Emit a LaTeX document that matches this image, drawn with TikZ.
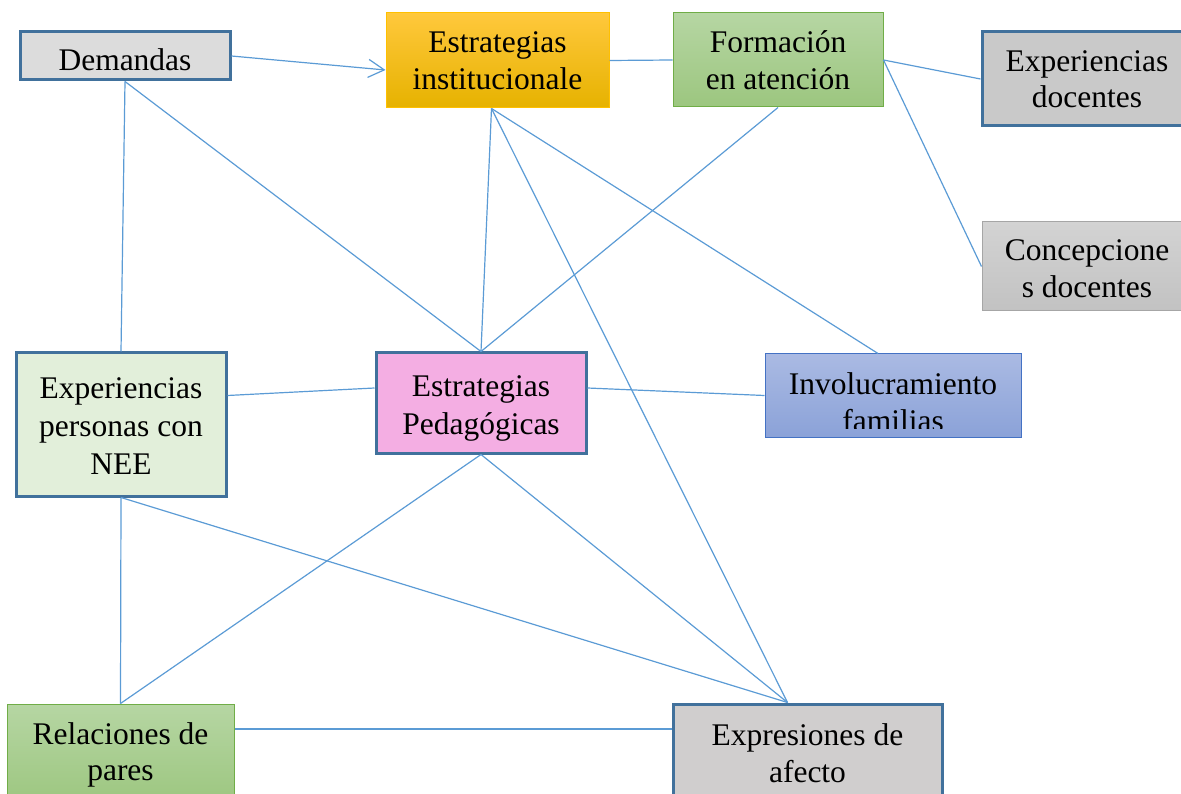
\documentclass[tikz,border=0pt]{standalone}
\usepackage{fontspec}
\setmainfont{Liberation Serif}
\usetikzlibrary{arrows.meta}
\definecolor{edge}{HTML}{5B9BD5}
\definecolor{dkblue}{HTML}{41719C}
\definecolor{gold}{HTML}{FFC000}
\definecolor{goldtop}{HTML}{FFC83C}
\definecolor{goldbot}{HTML}{E6B200}
\definecolor{grntop}{HTML}{B6D6A3}
\definecolor{grnbot}{HTML}{9CC67F}
\definecolor{grnline}{HTML}{70AD47}
\definecolor{bluetop}{HTML}{AABAE3}
\definecolor{bluebot}{HTML}{8BA2D8}
\definecolor{blueline}{HTML}{4472C4}
\definecolor{greytop}{HTML}{D3D3D3}
\definecolor{greybot}{HTML}{C2C2C2}
\definecolor{greyline}{HTML}{A6A6A6}
\definecolor{lightgrey}{HTML}{DCDCDC}
\definecolor{midgrey}{HTML}{C9C9C9}
\definecolor{paleg}{HTML}{E2EFDA}
\definecolor{pink}{HTML}{F4AEE3}
\definecolor{rosegrey}{HTML}{D0CECE}
\begin{document}
\begin{tikzpicture}[x=1pt,y=-1pt,
  box/.style={rectangle, inner sep=0pt, align=center,
    font=\fontsize{31.5}{36.5}\selectfont, text=black},
  boxtext/.style={inner sep=0pt, align=center, text=black,
    font=\fontsize{31.5}{38}\selectfont},
  heavy/.style={draw=dkblue, line width=3pt},
  goldbox/.style={top color=goldtop, bottom color=goldbot, draw=gold, line width=1pt},
  greenbox/.style={top color=grntop, bottom color=grnbot, draw=grnline, line width=1pt},
  bluebox/.style={top color=bluetop, bottom color=bluebot, draw=blueline, line width=1pt},
  greybox/.style={top color=greytop, bottom color=greybot, draw=greyline, line width=1pt},
  link/.style={draw=edge, line width=1.2pt}]
\useasboundingbox (0,0) rectangle (1181,794);

\node[box, heavy, fill=lightgrey, minimum width=210pt, minimum height=48pt,
  label={[boxtext, yshift=-4pt]center:Demandas}] (dem) at (125,56) {};
\node[box, goldbox, minimum width=223pt, minimum height=95pt] (einst) at (497.5,60.5) {Estrategias\\institucionale};
\node[box, greenbox, minimum width=210pt, minimum height=94pt] (form) at (778,60) {Formación\\en atención};
\node[box, heavy, fill=midgrey, minimum width=210pt, minimum height=94pt] (expdoc) at (1087,79) {Experiencias\\docentes};
\node[box, greybox, minimum width=210pt, minimum height=89pt,
  label={[box, yshift=-2pt]center:{Concepcione\\s docentes}}] (conc) at (1087,266.5) {};
\node[box, heavy, fill=paleg, minimum width=210pt, minimum height=143pt,
  label={[boxtext, yshift=-2pt]center:{Experiencias\\personas con\\NEE}}] (expp) at (121,424.5) {};
\node[box, heavy, fill=pink, minimum width=210pt, minimum height=100pt,
  label={[boxtext, yshift=-5pt]center:{Estrategias\\Pedagógicas}}] (eped) at (481,403) {};
\node[box, bluebox, minimum width=256pt, minimum height=83pt] (invol) at (893,395.5) {};
\begin{scope}
  \clip (765,354) rectangle (1021,428);
  \node[box] (involtext) at (893,402) {Involucramiento\\familias};
\end{scope}
\node[box, greenbox, minimum width=227pt, minimum height=102pt] (rel) at (120.5,755) {Relaciones de\\pares};
\node[box, heavy, fill=rosegrey, minimum width=269pt, minimum height=102pt,
  label={[box, yshift=2pt]center:{Expresiones de\\afecto}}] (expr) at (807.5,755) {};

\draw[link, -{Straight Barb[length=16pt,width=18pt]}] (dem.east) -- ([yshift=-9.5pt]einst.west);
\draw[link] (einst.east) -- (form.west);
\draw[link] (form.east) -- (expdoc.west);
\draw[link] (form.east) -- (conc.west);
\draw[link] (form.south) -- (eped.north);
\draw[link] (dem.south) -- (expp.north);
\draw[link] (dem.south) -- (eped.north);
\draw[link] ([xshift=-6pt]einst.south) -- (eped.north);
\draw[link] ([xshift=-6pt]einst.south) -- ([xshift=-15pt]invol.north);
\draw[link] ([xshift=-6pt]einst.south) -- ([xshift=-20pt]expr.north);
\draw[link] ([yshift=29pt]expp.east) -- ([yshift=15pt]eped.west);
\draw[link] ([yshift=15pt]eped.east) -- (invol.west);
\draw[link] (eped.south) -- (rel.north);
\draw[link] (eped.south) -- ([xshift=-20pt]expr.north);
\draw[link] (expp.south) -- (rel.north);
\draw[link] (expp.south) -- ([xshift=-20pt]expr.north);
\draw[link] ([yshift=26pt]rel.east) -- ([yshift=26pt]expr.west);
\end{tikzpicture}
\end{document}
